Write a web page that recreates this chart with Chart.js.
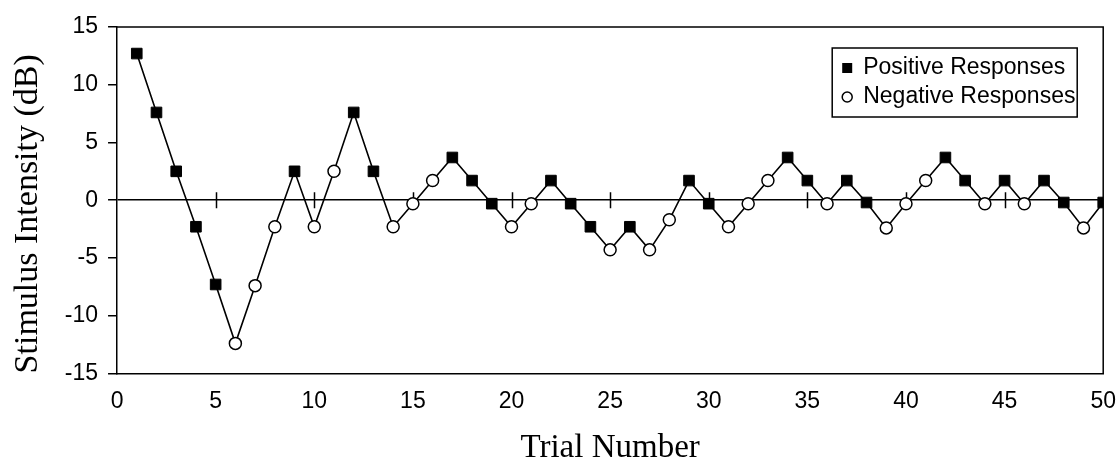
<!DOCTYPE html>
<html>
<head>
<meta charset="utf-8">
<script src="https://cdn.jsdelivr.net/npm/chart.js@4/dist/chart.umd.min.js"></script>
<style>
  html, body { margin: 0; padding: 0; background: #fff; }
  #wrap { width: 1120px; height: 462px; }
</style>
</head>
<body>
<div id="wrap"><canvas id="chart"></canvas></div>
<script>
// trial numbers
const trials = [
  1, 2, 3, 4, 5, 6, 7, 8, 9, 10,
  11, 12, 13, 14, 15, 16, 17, 18, 19, 20,
  21, 22, 23, 24, 25, 26, 27, 28, 29, 30,
  31, 32, 33, 34, 35, 36, 37, 38, 39, 40,
  41, 42, 43, 44, 45, 46, 47, 48, 49, 50
]

// stimulus intensity (dB)
const intensity = [
  12.7, 7.6, 2.5, -2.3, -7.3, -12.4, -7.4, -2.3, 2.5, -2.3,
  2.5, 7.6, 2.5, -2.3, -0.3, 1.7, 3.7, 1.7, -0.3, -2.3,
  -0.3, 1.7, -0.3, -2.3, -4.3, -2.3, -4.3, -1.7, 1.7, -0.3,
  -2.3, -0.3, 1.7, 3.7, 1.7, -0.3, 1.7, -0.2, -2.4, -0.3,
  1.7, 3.7, 1.7, -0.3, 1.7, -0.3, 1.7, -0.2, -2.4, -0.2
]

// P = positive response, N = negative response
const responses = [
  'P', 'P', 'P', 'P', 'P', 'N', 'N', 'N', 'P', 'N',
  'N', 'P', 'P', 'N', 'N', 'N', 'P', 'P', 'P', 'N',
  'N', 'P', 'P', 'P', 'N', 'P', 'N', 'N', 'P', 'P',
  'N', 'N', 'N', 'P', 'P', 'N', 'P', 'P', 'N', 'N',
  'N', 'P', 'P', 'N', 'P', 'N', 'P', 'P', 'N', 'P'
]

const legendLabels = ['Positive Responses', 'Negative Responses']

const points = trials.map((t, i) => ({ x: t, y: intensity[i] }))
const positive = points.filter((p, i) => responses[i] === 'P')
const negative = points.filter((p, i) => responses[i] === 'N')

const SANS = '"Liberation Sans", Arial, sans-serif'
const SERIF = '"Liberation Serif", "Times New Roman", serif'

// box around plot + little ticks on the zero line
const frame = {
  id: 'frame',
  beforeDatasetsDraw(chart) {
    const { ctx, scales: { x, y } } = chart
    const y0 = y.getPixelForValue(0)
    ctx.save()
    ctx.strokeStyle = '#000'
    ctx.lineWidth = 1.5
    ctx.beginPath()
    x.ticks.forEach(t => {
      if (t.value <= x.min || t.value >= x.max) return
      const px = Math.round(x.getPixelForValue(t.value)) + 0.5
      ctx.moveTo(px, y0 - 8)
      ctx.lineTo(px, y0 + 8)
    })
    ctx.stroke()
    ctx.restore()
  },
  afterDraw(chart) {
    const { ctx, chartArea: a } = chart
    ctx.save()
    ctx.strokeStyle = '#000'
    ctx.lineWidth = 1.5
    ctx.beginPath()
    ctx.moveTo(a.left, a.top)
    ctx.lineTo(a.right, a.top)
    ctx.lineTo(a.right, a.bottom)
    ctx.stroke()
    ctx.restore()
  }
}

// legend box drawn inside the plot, top right
const boxLegend = {
  id: 'boxLegend',
  afterDraw(chart) {
    const { ctx, chartArea: a } = chart
    const w = 245, h = 69
    const left = a.right - 26 - w
    const top = a.top + 21
    ctx.save()
    ctx.fillStyle = '#fff'
    ctx.fillRect(left, top, w, h)
    ctx.strokeStyle = '#000'
    ctx.lineWidth = 1.5
    ctx.strokeRect(left, top, w, h)
    ctx.font = '23px ' + SANS
    ctx.textBaseline = 'middle'
    ctx.fillStyle = '#000'
    const rows = [top + 20, top + 49]
    // positive marker
    ctx.fillRect(left + 10, rows[0] - 5, 10, 10)
    // negative marker
    ctx.beginPath()
    ctx.arc(left + 15, rows[1], 5, 0, Math.PI * 2)
    ctx.lineWidth = 1.5
    ctx.stroke()
    ctx.fillText(legendLabels[0], left + 31, rows[0])
    ctx.fillText(legendLabels[1], left + 31, rows[1])
    ctx.restore()
  }
}

new Chart(document.getElementById('chart'), {
  type: 'line',
  data: {
    datasets: [
      {
        label: legendLabels[0],
        data: positive,
        showLine: false,
        pointStyle: 'rect',
        pointRadius: 7.5,
        backgroundColor: '#000',
        borderColor: '#000',
        borderWidth: 1,
        order: 0
      },
      {
        label: legendLabels[1],
        data: negative,
        showLine: false,
        pointStyle: 'circle',
        pointRadius: 6,
        backgroundColor: '#fff',
        borderColor: '#000',
        borderWidth: 1.5,
        order: 0
      },
      {
        label: 'trace',
        data: points,
        borderColor: '#000',
        borderWidth: 1.6,
        pointRadius: 0,
        tension: 0,
        order: 2
      }
    ]
  },
  options: {
    responsive: true,
    maintainAspectRatio: false,
    animation: false,
    layout: { padding: { top: 27, right: 0, left: 8, bottom: 0 } },
    plugins: {
      legend: { display: false },
      tooltip: { enabled: false }
    },
    scales: {
      x: {
        type: 'linear',
        min: 0,
        max: 50,
        ticks: { stepSize: 5, color: '#000', font: { family: SANS, size: 23, lineHeight: 1.4 }, padding: 4, maxRotation: 0 },
        // tick marks are hidden, but their length still spaces the labels
        grid: { display: false, drawTicks: true, tickLength: 8 },
        border: { display: true, color: '#000', width: 1.5 },
        title: {
          display: true,
          text: 'Trial Number',
          color: '#000',
          font: { family: SERIF, size: 33, lineHeight: 0.8 },
          padding: { top: 14, bottom: 0 }
        }
      },
      y: {
        min: -15,
        max: 15,
        ticks: { stepSize: 5, color: '#000', font: { family: SANS, size: 23 }, padding: 10 },
        grid: {
          color: c => c.tick && c.tick.value === 0 ? '#000' : 'rgba(0,0,0,0)',
          lineWidth: 1.5,
          tickColor: '#000',
          tickLength: 9
        },
        border: { display: true, color: '#000', width: 1.5 },
        title: {
          display: true,
          text: 'Stimulus Intensity (dB)',
          align: 'start',
          color: '#000',
          font: { family: SERIF, size: 34 },
          padding: { top: 0, bottom: 6 }
        }
      }
    }
  },
  plugins: [frame, boxLegend]
})
</script>
</body>
</html>
